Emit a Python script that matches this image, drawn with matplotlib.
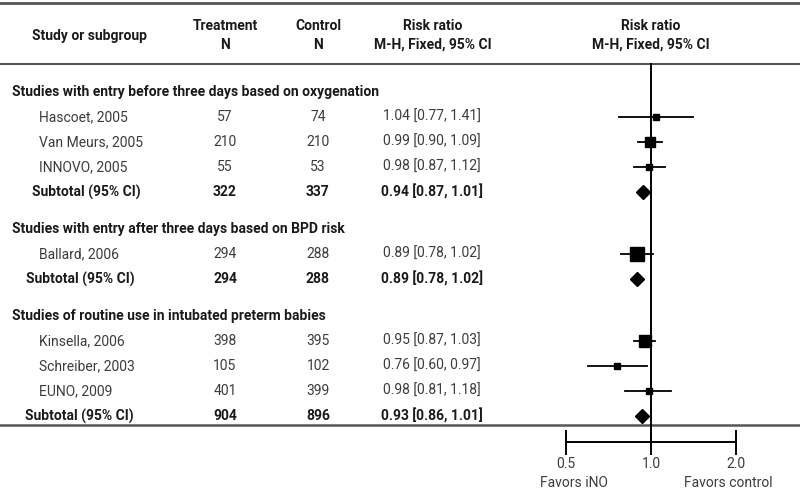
import matplotlib.pyplot as plt
import numpy as np

# Forest plot data: iNO vs control, three subgroups
section_titles = [
    "Studies with entry before three days based on oxygenation",
    "Studies with entry after three days based on BPD risk",
    "Studies of routine use in intubated preterm babies",
]
study_names = [
    ["Hascoet, 2005", "Van Meurs, 2005", "INNOVO, 2005"],
    ["Ballard, 2006"],
    ["Kinsella, 2006", "Schreiber, 2003", "EUNO, 2009"],
]
treat_n = [[57, 210, 55], [294], [398, 105, 401]]
control_n = [[74, 210, 53], [288], [395, 102, 399]]
rr = [[1.04, 0.99, 0.98], [0.89], [0.95, 0.76, 0.98]]
ci_lo = [[0.77, 0.90, 0.87], [0.78], [0.87, 0.60, 0.81]]
ci_hi = [[1.41, 1.09, 1.12], [1.02], [1.03, 0.97, 1.18]]
weight_pct = [[3.2, 12.5, 3.2], [20.0], [14.5, 3.2, 3.2]]

sub_treat = [322, 294, 904]
sub_control = [337, 288, 896]
sub_rr = [0.94, 0.89, 0.93]
sub_lo = [0.87, 0.78, 0.86]
sub_hi = [1.01, 1.02, 1.01]

axis_ticks = [0.5, 1.0, 2.0]
axis_labels = ["0.5", "1.0", "2.0"]

plt.rcParams['font.family'] = ['Roboto', 'DejaVu Sans']
txt_col = "#3c3c3c"
bold_col = "#1a1a1a"
fs = 10

fig = plt.figure(figsize=(8, 4.92), dpi=100)
bg = fig.add_axes([0, 0, 1, 1])
bg.set_xlim(0, 800)
bg.set_ylim(492, 0)
bg.axis('off')

# forest panel: 0.5 -> x=566px, 2.0 -> x=736px, bottom spine at y=442px
fax = fig.add_axes([566 / 800, (492 - 442) / 492, 170 / 800, 442 / 492])
fax.set_xscale('log', base=2)
fax.set_xlim(0.5, 2.0)
fax.set_ylim(442, 0)
fax.patch.set_alpha(0)
for s in ['top', 'left', 'right']:
    fax.spines[s].set_visible(False)
fax.spines['bottom'].set_linewidth(1.4)
fax.set_yticks([])
fax.set_xticks(axis_ticks)
fax.set_xticklabels(axis_labels)
fax.minorticks_off()
fax.tick_params(axis='x', direction='inout', length=18, width=1.4, pad=2,
                labelsize=fs, labelcolor=txt_col)

# rules
bg.plot([0, 800], [3, 3], color="#555555", lw=2)
bg.plot([0, 800], [64, 64], color="#555555", lw=1.5)
bg.plot([0, 800], [425, 425], color="#555555", lw=1.8)

# headers
bg.text(32, 36, "Study or subgroup", fontsize=fs, fontweight='bold', color=bold_col, va='center')
for cx, top, bot in [(225, "Treatment", "N"), (318, "Control", "N"),
                     (433, "Risk ratio", "M-H, Fixed, 95% CI"),
                     (651, "Risk ratio", "M-H, Fixed, 95% CI")]:
    bg.text(cx, 26, top, fontsize=fs, fontweight='bold', color=bold_col, ha='center', va='center')
    bg.text(cx, 45, bot, fontsize=fs, fontweight='bold', color=bold_col, ha='center', va='center')

fax.plot([1, 1], [64, 450], color='black', lw=1.4, clip_on=False)

subtotal_x = [32, 26, 25]
y = 92
for g, title in enumerate(section_titles):
    bg.text(12, y, title, fontsize=fs, fontweight='bold', color=bold_col, va='center')
    y += 25
    for i, name in enumerate(study_names[g]):
        bg.text(39, y, name, fontsize=fs, color=txt_col, va='center')
        bg.text(225, y, str(treat_n[g][i]), fontsize=fs, color=txt_col, ha='center', va='center')
        bg.text(318, y, str(control_n[g][i]), fontsize=fs, color=txt_col, ha='center', va='center')
        bg.text(432, y, f"{rr[g][i]:.2f} [{ci_lo[g][i]:.2f}, {ci_hi[g][i]:.2f}]",
                fontsize=fs, color=txt_col, ha='center', va='center')
        fax.plot([ci_lo[g][i], ci_hi[g][i]], [y, y], color='black', lw=1.3)
        side_px = 3.1 * np.sqrt(weight_pct[g][i])
        fax.plot(rr[g][i], y, marker='s', ms=side_px * 0.72, color='black', mec='black')
        y += 25
    bg.text(subtotal_x[g], y, "Subtotal (95% CI)", fontsize=fs, fontweight='bold', color=bold_col, va='center')
    bg.text(225, y, str(sub_treat[g]), fontsize=fs, fontweight='bold', color=bold_col, ha='center', va='center')
    bg.text(318, y, str(sub_control[g]), fontsize=fs, fontweight='bold', color=bold_col, ha='center', va='center')
    bg.text(432, y, f"{sub_rr[g]:.2f} [{sub_lo[g]:.2f}, {sub_hi[g]:.2f}]",
            fontsize=fs, fontweight='bold', color=bold_col, ha='center', va='center')
    fax.plot(sub_rr[g], y, marker='D', ms=7.3, color='black')
    y += 37

bg.text(574, 483, "Favors iNO", fontsize=fs, color=txt_col, ha='center', va='center')
bg.text(728, 483, "Favors control", fontsize=fs, color=txt_col, ha='center', va='center')

fig.savefig("out.png", dpi=100)
